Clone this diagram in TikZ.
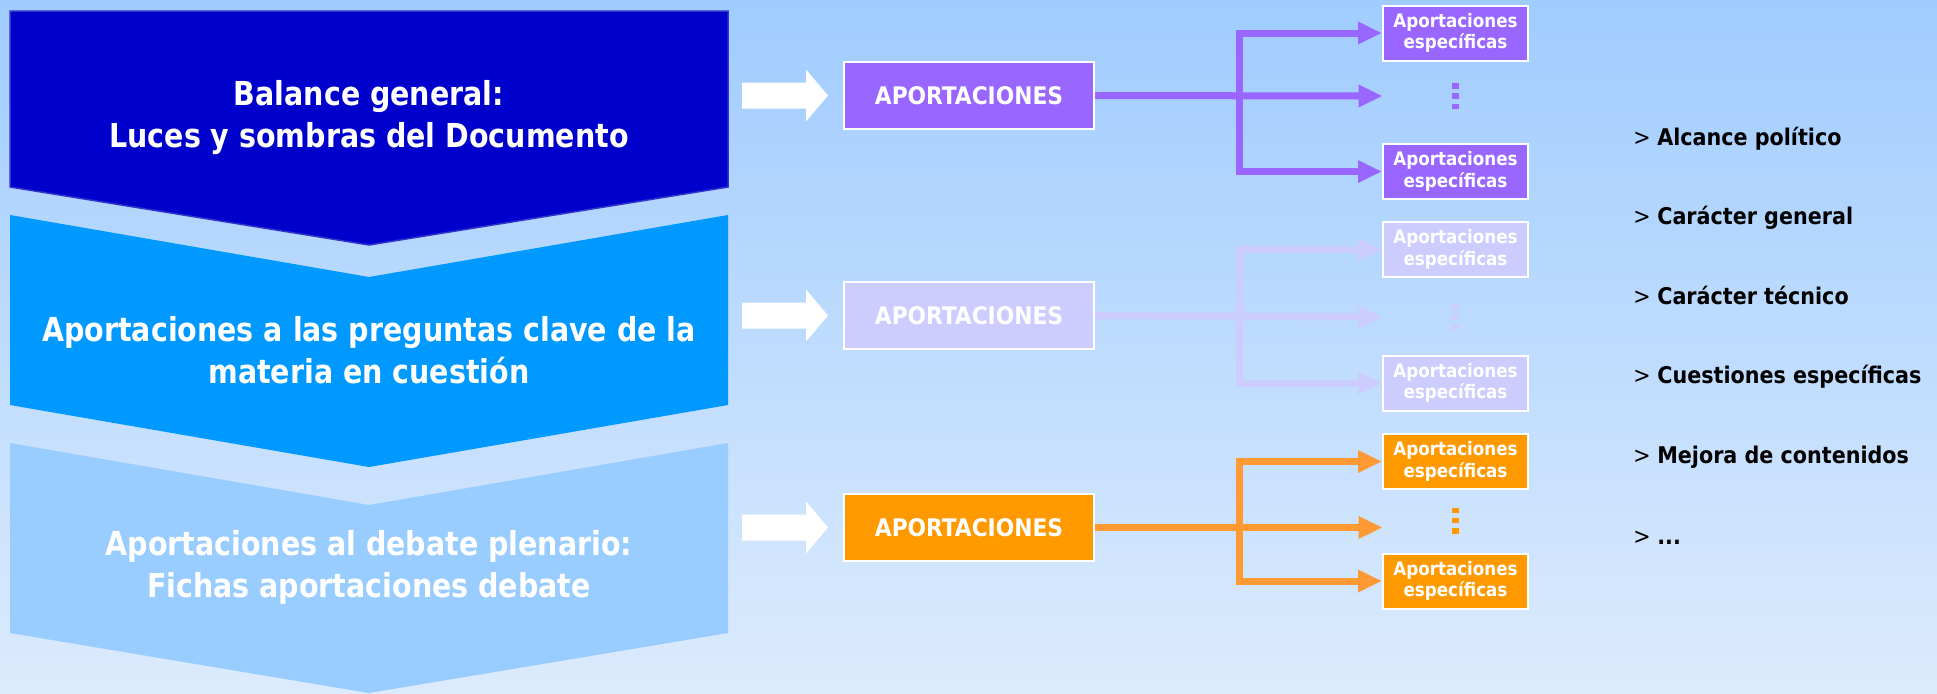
\documentclass[tikz,border=0pt]{standalone}
\usepackage{fontspec}
\setmainfont{DejaVu Sans}
\newfontfamily\cond{DejaVu Sans Condensed}
\newfontfamily\condhdr{DejaVu Sans Condensed}[FakeStretch=0.96]
\usetikzlibrary{arrows.meta}
\definecolor{bgtop}{HTML}{A0CCFF}
\definecolor{bgbot}{HTML}{DCEBFD}
\definecolor{navy}{HTML}{0000CC}
\definecolor{navyedge}{HTML}{3333CC}
\definecolor{sky}{HTML}{0099FF}
\definecolor{pale}{HTML}{99CCFF}
\definecolor{purp}{HTML}{9966FF}
\definecolor{lav}{HTML}{CCCCFF}
\definecolor{orng}{HTML}{FF9900}
\definecolor{orngline}{HTML}{FF9933}
\begin{document}
\begin{tikzpicture}[x=0.5pt,y=-0.5pt,
  hdr/.style={text=white,font=\condhdr\bfseries\fontsize{16.5}{21}\selectfont,align=center,inner sep=0pt},
  apbox/.style={draw=white,line width=1pt,minimum width=125pt,minimum height=33.5pt,inner sep=0pt,text=white,font=\cond\bfseries\fontsize{12.1}{14}\selectfont},
  spbox/.style={draw=white,line width=1pt,minimum width=72.5pt,minimum height=27.5pt,inner sep=0pt,text=white,font=\cond\bfseries\fontsize{9.3}{10.7}\selectfont,align=center},
  dotsbox/.style={minimum width=72.5pt,minimum height=20pt,inner sep=0pt},
  conn/.style={line width=3.5pt,-{Triangle[length=12pt,width=10.5pt]}},
  item/.style={anchor=west,inner sep=0pt,font=\cond\fontsize{11.5}{14}\selectfont,text=black,text height=0.75em,text depth=0.2em},
  warrow/.pic={\fill[white] (-43,-13) -- (21,-13) -- (21,-26) -- (43,0) -- (21,26) -- (21,13) -- (-43,13) -- cycle;},
  vdotsq/.pic={\fill (-3.5,-13) rectangle (3.5,-7.5); \fill (-3.5,-2.75) rectangle (3.5,2.75); \fill (-3.5,7.5) rectangle (3.5,13);}
]
\useasboundingbox (0,0) rectangle (1937,693);
\shade[top color=bgtop,bottom color=bgbot] (0,0) rectangle (1937,693);

% chevrons
\fill[pale] (10,443) -- (369,505) -- (728,443) -- (728,633) -- (369,693) -- (10,633) -- cycle;
\fill[sky] (10,215) -- (369,277) -- (728,215) -- (728,405) -- (369,467) -- (10,405) -- cycle;
\filldraw[fill=navy,draw=navyedge,line width=0.75pt] (10,11) -- (728,11) -- (728,187) -- (369,245) -- (10,187) -- cycle;

\node[hdr] (t1) at (369,118) {Balance general:\\Luces y sombras del Documento};
\node[hdr] (t2) at (369,350) {Aportaciones a las preguntas clave de la\\materia en cuestión};
\node[hdr] (t3) at (369,567) {Aportaciones al debate plenario:\\Fichas aportaciones debate};

% group 1
\pic at (785,95.5) {warrow};
\node[apbox,fill=purp] (a1) at (969,95.5) {APORTACIONES};
\node[spbox,fill=purp] (s1a) at (1455.5,33) {Aportaciones\\específicas};
\node[spbox,fill=purp] (s1b) at (1455.5,171.5) {Aportaciones\\específicas};
\node[dotsbox] (d1) at (1455.5,96) {};
\pic[purp] at (d1.center) {vdotsq};
\coordinate (j1) at (1239,95.5);
\draw[conn,purp] (a1.east) -- (d1.west);
\draw[conn,purp] (j1) |- (s1a.west);
\draw[conn,purp] (j1) |- (s1b.west);

% group 2
\pic at (785,315.5) {warrow};
\node[apbox,fill=lav] (a2) at (969,315.5) {APORTACIONES};
\node[spbox,fill=lav] (s2a) at (1455.5,249.5) {Aportaciones\\específicas};
\node[spbox,fill=lav] (s2b) at (1455.5,383) {Aportaciones\\específicas};
\node[dotsbox] (d2) at (1455.5,317) {};
\pic[lav] at (d2.center) {vdotsq};
\coordinate (j2) at (1239,315.5);
\draw[conn,lav] (a2.east) -- (d2.west);
\draw[conn,lav] (j2) |- (s2a.west);
\draw[conn,lav] (j2) |- (s2b.west);

% group 3
\pic at (785,527.5) {warrow};
\node[apbox,fill=orng] (a3) at (969,527.5) {APORTACIONES};
\node[spbox,fill=orng] (s3a) at (1455.5,461.5) {Aportaciones\\específicas};
\node[spbox,fill=orng] (s3b) at (1455.5,581) {Aportaciones\\específicas};
\node[dotsbox] (d3) at (1455.5,520.5) {};
\pic[orng] at (d3.center) {vdotsq};
\coordinate (j3) at (1239,527.5);
\draw[conn,orngline] (a3.east) -- (a3.east -| d3.west);
\draw[conn,orngline] (j3) |- (s3a.west);
\draw[conn,orngline] (j3) |- (s3b.west);

% list
\node[item] (l1) at (1633,140) {>\ \textbf{Alcance político}};
\node[item] (l2) at (1633,219) {>\ \textbf{Carácter general}};
\node[item] (l3) at (1633,299) {>\ \textbf{Carácter técnico}};
\node[item] (l4) at (1633,378) {>\ \textbf{Cuestiones específicas}};
\node[item] (l5) at (1633,458) {>\ \textbf{Mejora de contenidos}};
\node[item] (l6) at (1633,539) {>\ \textbf{...}};
\end{tikzpicture}
\end{document}
